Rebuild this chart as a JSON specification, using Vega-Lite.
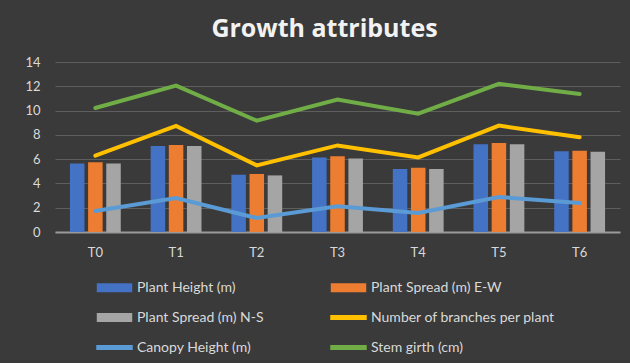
{
  "$schema": "https://vega.github.io/schema/vega-lite/v6.json",
  "autosize": {"type": "none"},
  "width": 565,
  "height": 170,
  "padding": {"left": 55, "top": 62, "right": 10, "bottom": 131},
  "background": "#3a3a3a",
  "title": {
    "text": "Growth attributes",
    "font": "Open Sans",
    "fontSize": 25,
    "fontWeight": "bold",
    "color": "#f2f2f2",
    "anchor": "middle",
    "frame": "group",
    "dx": -13,
    "offset": 14
  },
  "config": {
    "view": {"stroke": null},
    "axis": {
      "labelFont": "Lato",
      "labelColor": "#d9d9d9",
      "labelFontSize": 13,
      "ticks": false,
      "title": null
    }
  },
  "data": {
    "values": [
      {"t": "T0", "series": "Plant Height (m)", "value": 5.65},
      {"t": "T1", "series": "Plant Height (m)", "value": 7.08},
      {"t": "T2", "series": "Plant Height (m)", "value": 4.72},
      {"t": "T3", "series": "Plant Height (m)", "value": 6.14},
      {"t": "T4", "series": "Plant Height (m)", "value": 5.19},
      {"t": "T5", "series": "Plant Height (m)", "value": 7.22},
      {"t": "T6", "series": "Plant Height (m)", "value": 6.64},
      {"t": "T0", "series": "Plant Spread (m) E-W", "value": 5.75},
      {"t": "T1", "series": "Plant Spread (m) E-W", "value": 7.17},
      {"t": "T2", "series": "Plant Spread (m) E-W", "value": 4.78},
      {"t": "T3", "series": "Plant Spread (m) E-W", "value": 6.23},
      {"t": "T4", "series": "Plant Spread (m) E-W", "value": 5.30},
      {"t": "T5", "series": "Plant Spread (m) E-W", "value": 7.33},
      {"t": "T6", "series": "Plant Spread (m) E-W", "value": 6.70},
      {"t": "T0", "series": "Plant Spread (m) N-S", "value": 5.65},
      {"t": "T1", "series": "Plant Spread (m) N-S", "value": 7.08},
      {"t": "T2", "series": "Plant Spread (m) N-S", "value": 4.66},
      {"t": "T3", "series": "Plant Spread (m) N-S", "value": 6.06},
      {"t": "T4", "series": "Plant Spread (m) N-S", "value": 5.19},
      {"t": "T5", "series": "Plant Spread (m) N-S", "value": 7.22},
      {"t": "T6", "series": "Plant Spread (m) N-S", "value": 6.61},
      {"t": "T0", "series": "Number of branches per plant", "value": 6.28},
      {"t": "T1", "series": "Number of branches per plant", "value": 8.73},
      {"t": "T2", "series": "Number of branches per plant", "value": 5.49},
      {"t": "T3", "series": "Number of branches per plant", "value": 7.13},
      {"t": "T4", "series": "Number of branches per plant", "value": 6.14},
      {"t": "T5", "series": "Number of branches per plant", "value": 8.76},
      {"t": "T6", "series": "Number of branches per plant", "value": 7.80},
      {"t": "T0", "series": "Canopy Height (m)", "value": 1.73},
      {"t": "T1", "series": "Canopy Height (m)", "value": 2.80},
      {"t": "T2", "series": "Canopy Height (m)", "value": 1.15},
      {"t": "T3", "series": "Canopy Height (m)", "value": 2.11},
      {"t": "T4", "series": "Canopy Height (m)", "value": 1.56},
      {"t": "T5", "series": "Canopy Height (m)", "value": 2.88},
      {"t": "T6", "series": "Canopy Height (m)", "value": 2.39},
      {"t": "T0", "series": "Stem girth (cm)", "value": 10.21},
      {"t": "T1", "series": "Stem girth (cm)", "value": 12.05},
      {"t": "T2", "series": "Stem girth (cm)", "value": 9.17},
      {"t": "T3", "series": "Stem girth (cm)", "value": 10.90},
      {"t": "T4", "series": "Stem girth (cm)", "value": 9.74},
      {"t": "T5", "series": "Stem girth (cm)", "value": 12.20},
      {"t": "T6", "series": "Stem girth (cm)", "value": 11.37}
    ]
  },
  "encoding": {
    "x": {
      "field": "t",
      "type": "nominal",
      "scale": {"paddingInner": 0.37, "paddingOuter": 0.185},
      "axis": {
        "labelAngle": 0,
        "labelPadding": 14,
        "domainColor": "#9a9a9a",
        "domainWidth": 2,
        "grid": false
      }
    },
    "y": {
      "field": "value",
      "type": "quantitative",
      "scale": {"domain": [0, 14]},
      "axis": {
        "values": [0, 2, 4, 6, 8, 10, 12, 14],
        "domain": false,
        "labelPadding": 15,
        "gridColor": "#5e5e5e",
        "gridWidth": 1
      }
    },
    "color": {
      "field": "series",
      "type": "nominal",
      "sort": ["Plant Height (m)", "Plant Spread (m) E-W", "Plant Spread (m) N-S", "Number of branches per plant", "Canopy Height (m)", "Stem girth (cm)"],
      "scale": {
        "domain": ["Plant Height (m)", "Plant Spread (m) E-W", "Plant Spread (m) N-S", "Number of branches per plant", "Canopy Height (m)", "Stem girth (cm)"],
        "range": ["#4472c4", "#ed7d31", "#a5a5a5", "#ffc000", "#5b9bd5", "#70ad47"]
      },
      "legend": {
        "title": null,
        "orient": "none",
        "legendX": 41,
        "legendY": 207,
        "direction": "horizontal",
        "columns": 2,
        "columnPadding": 64,
        "rowPadding": 4,
        "symbolSize": 1225,
        "labelFont": "Lato",
        "labelFontSize": 14,
        "labelColor": "#d9d9d9",
        "labelOffset": 4,
        "labelLimit": 300,
        "encode": {
          "symbols": {
            "update": {
              "shape": {"signal": "indexof(['Plant Height (m)','Plant Spread (m) E-W','Plant Spread (m) N-S'], datum.value) >= 0 ? 'M-0.97,-0.22H0.97V0.22H-0.97Z' : 'M-1,-0.1H1V0.1H-1Z'"},
              "fill": {"scale": "color", "field": "value"},
              "stroke": {"value": "transparent"},
              "opacity": {"value": 1}
            }
          }
        }
      }
    }
  },
  "layer": [
    {
      "transform": [{"filter": "indexof(['Plant Height (m)','Plant Spread (m) E-W','Plant Spread (m) N-S'], datum.series) >= 0"}],
      "mark": {"type": "bar"},
      "encoding": {
        "xOffset": {
          "field": "series",
          "type": "nominal",
          "sort": ["Plant Height (m)", "Plant Spread (m) E-W", "Plant Spread (m) N-S"],
          "scale": {"paddingInner": 0.2}
        }
      }
    },
    {
      "transform": [{"filter": "indexof(['Plant Height (m)','Plant Spread (m) E-W','Plant Spread (m) N-S'], datum.series) < 0"}],
      "mark": {"type": "line", "strokeWidth": 4, "strokeCap": "round", "strokeJoin": "miter"},
      "encoding": {}
    }
  ]
}
